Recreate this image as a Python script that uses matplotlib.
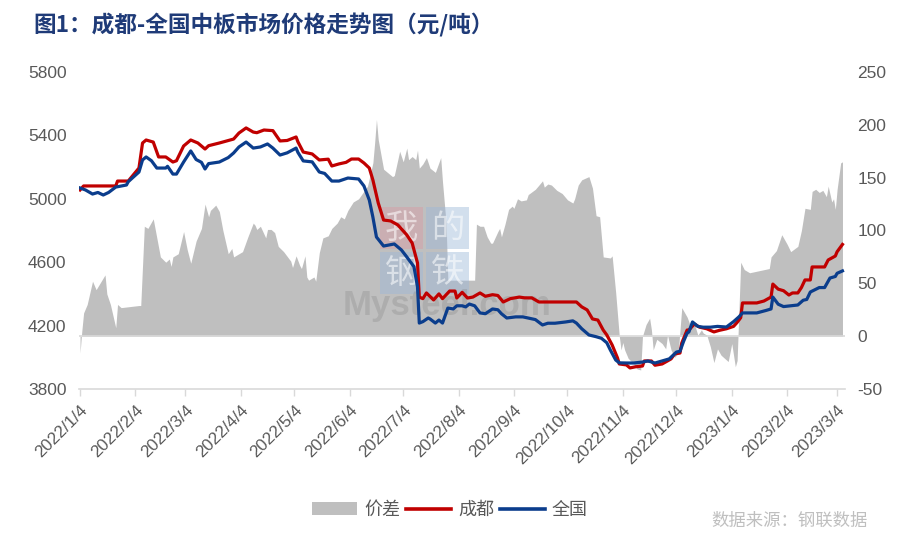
import matplotlib
matplotlib.use('Agg')
import matplotlib.pyplot as plt
import pandas as pd
from matplotlib.patches import Rectangle, Patch
from matplotlib.lines import Line2D

plt.rcParams['font.family'] = ['Liberation Sans', 'Noto Sans CJK SC', 'DejaVu Sans']
CJK = ['Noto Sans CJK SC', 'DejaVu Sans']

# ---------------- data ----------------
cd_dates = ['2022-01-04','2022-01-06','2022-01-24','2022-01-25','2022-01-31','2022-02-06','2022-02-08','2022-02-10',
            '2022-02-14','2022-02-17','2022-02-21','2022-02-25','2022-02-27','2022-03-03','2022-03-07','2022-03-11',
            '2022-03-15','2022-03-17','2022-03-23','2022-03-31','2022-04-03','2022-04-07','2022-04-11','2022-04-13',
            '2022-04-17','2022-04-22','2022-04-26','2022-04-30','2022-05-05','2022-05-06','2022-05-09','2022-05-14',
            '2022-05-18','2022-05-23','2022-05-25','2022-05-29','2022-06-02','2022-06-05','2022-06-09','2022-06-12',
            '2022-06-15','2022-06-17','2022-06-20','2022-06-23','2022-06-27','2022-07-01','2022-07-06','2022-07-09',
            '2022-07-12','2022-07-13','2022-07-15','2022-07-17','2022-07-21','2022-07-24','2022-07-26','2022-07-30',
            '2022-08-02','2022-08-03','2022-08-06','2022-08-09','2022-08-12','2022-08-16','2022-08-19','2022-08-23',
            '2022-08-26','2022-08-29','2022-09-02','2022-09-07','2022-09-10','2022-09-14','2022-09-18','2022-10-09',
            '2022-10-12','2022-10-15','2022-10-18','2022-10-21','2022-10-24','2022-10-26','2022-10-29','2022-11-01',
            '2022-11-02','2022-11-06','2022-11-08','2022-11-11','2022-11-15','2022-11-16','2022-11-20','2022-11-22',
            '2022-11-26','2022-11-29','2022-12-01','2022-12-03','2022-12-06','2022-12-07','2022-12-10','2022-12-11',
            '2022-12-14','2022-12-17','2022-12-21','2022-12-25','2022-12-28','2023-01-01','2023-01-05','2023-01-07',
            '2023-01-09','2023-01-10','2023-01-18','2023-01-22','2023-01-26','2023-01-27','2023-01-30','2023-02-02',
            '2023-02-05','2023-02-07','2023-02-10','2023-02-12','2023-02-14','2023-02-17','2023-02-18','2023-02-25',
            '2023-02-27','2023-03-03','2023-03-04','2023-03-07']
cd_vals = [5056,5081,5081,5112,5112,5194,5352,5371,
           5358,5264,5264,5232,5240,5333,5371,5352,
           5314,5335,5352,5377,5415,5447,5421,5417,
           5434,5430,5365,5368,5390,5360,5295,5283,
           5245,5250,5207,5220,5230,5251,5251,5226,
           5194,5119,4974,4866,4860,4835,4772,4721,
           4595,4380,4370,4406,4362,4400,4370,4418,
           4418,4374,4410,4374,4380,4406,4385,4395,
           4390,4349,4370,4380,4375,4375,4349,4349,
           4318,4299,4242,4235,4172,4141,4078,3996,
           3958,3952,3933,3940,3945,3977,3977,3950,
           3958,3977,3990,4021,4027,4090,4172,4172,
           4210,4190,4180,4160,4170,4180,4195,4220,
           4250,4343,4343,4355,4380,4462,4430,4420,
           4393,4406,4406,4440,4488,4488,4570,4570,
           4614,4639,4666,4712]

qg_dates = ['2022-01-04','2022-01-07','2022-01-11','2022-01-14','2022-01-17','2022-01-20','2022-01-24','2022-01-30',
            '2022-01-31','2022-02-06','2022-02-08','2022-02-10','2022-02-13','2022-02-16','2022-02-21','2022-02-22',
            '2022-02-25','2022-02-27','2022-03-03','2022-03-07','2022-03-10','2022-03-13','2022-03-15','2022-03-17',
            '2022-03-23','2022-03-28','2022-03-31','2022-04-03','2022-04-07','2022-04-11','2022-04-15','2022-04-19',
            '2022-04-22','2022-04-26','2022-04-30','2022-05-05','2022-05-06','2022-05-09','2022-05-14','2022-05-18',
            '2022-05-21','2022-05-25','2022-05-29','2022-06-03','2022-06-09','2022-06-12','2022-06-15','2022-06-17',
            '2022-06-19','2022-06-23','2022-06-29','2022-07-03','2022-07-06','2022-07-10','2022-07-12','2022-07-13',
            '2022-07-15','2022-07-18','2022-07-19','2022-07-22','2022-07-24','2022-07-26','2022-07-29','2022-08-01',
            '2022-08-03','2022-08-06','2022-08-08','2022-08-10','2022-08-13','2022-08-16','2022-08-19','2022-08-23',
            '2022-08-26','2022-08-28','2022-08-31','2022-09-05','2022-09-09','2022-09-12','2022-09-16','2022-09-20',
            '2022-09-23','2022-09-27','2022-10-03','2022-10-07','2022-10-09','2022-10-12','2022-10-16','2022-10-20',
            '2022-10-23','2022-10-26','2022-10-28','2022-10-31','2022-11-02','2022-11-06','2022-11-10','2022-11-15',
            '2022-11-18','2022-11-22','2022-11-26','2022-11-30','2022-12-04','2022-12-06','2022-12-08','2022-12-10',
            '2022-12-11','2022-12-13','2022-12-16','2022-12-19','2022-12-23','2022-12-27','2023-01-01','2023-01-05',
            '2023-01-08','2023-01-10','2023-01-18','2023-01-23','2023-01-26','2023-01-27','2023-01-30','2023-02-02',
            '2023-02-06','2023-02-10','2023-02-13','2023-02-15','2023-02-17','2023-02-22','2023-02-25','2023-02-28',
            '2023-03-03','2023-03-04','2023-03-07']
qg_vals = [5068,5056,5030,5040,5024,5040,5074,5087,
           5108,5169,5245,5264,5240,5194,5194,5205,
           5156,5156,5232,5302,5248,5230,5188,5222,
           5232,5260,5289,5327,5358,5320,5327,5346,
           5320,5276,5290,5320,5293,5239,5233,5169,
           5160,5112,5112,5131,5125,5081,4992,4885,
           4759,4702,4715,4677,4633,4572,4444,4216,
           4225,4248,4242,4216,4235,4216,4311,4305,
           4325,4325,4318,4336,4325,4280,4275,4305,
           4300,4275,4248,4255,4255,4248,4238,4204,
           4215,4215,4223,4230,4216,4180,4141,4130,
           4120,4092,4046,3983,3965,3964,3964,3970,
           3977,3964,3977,3990,4033,4038,4100,4153,
           4160,4223,4195,4190,4190,4195,4191,4225,
           4255,4280,4280,4295,4305,4380,4335,4320,
           4325,4330,4360,4365,4412,4440,4440,4500,
           4510,4530,4545]

diff_dates = ['2022-01-04','2022-01-05','2022-01-06','2022-01-08','2022-01-11','2022-01-13','2022-01-18','2022-01-19',
              '2022-01-21','2022-01-24','2022-01-25','2022-01-27','2022-02-06','2022-02-07','2022-02-09','2022-02-11',
              '2022-02-14','2022-02-15','2022-02-18','2022-02-21','2022-02-23','2022-02-24','2022-02-25','2022-02-28',
              '2022-03-01','2022-03-03','2022-03-05','2022-03-07','2022-03-10','2022-03-13','2022-03-15','2022-03-17',
              '2022-03-18','2022-03-21','2022-03-23','2022-03-25','2022-03-28','2022-03-30','2022-03-31','2022-04-05',
              '2022-04-08','2022-04-11','2022-04-12','2022-04-13','2022-04-15','2022-04-18','2022-04-19','2022-04-21',
              '2022-04-23','2022-04-25','2022-04-28','2022-05-02','2022-05-03','2022-05-05','2022-05-07','2022-05-08',
              '2022-05-10','2022-05-11','2022-05-12','2022-05-15','2022-05-16','2022-05-18','2022-05-20','2022-05-23',
              '2022-05-25','2022-05-28','2022-05-30','2022-06-01','2022-06-03','2022-06-06','2022-06-09','2022-06-14',
              '2022-06-17','2022-06-18','2022-06-19','2022-06-20','2022-06-23','2022-06-28','2022-06-29','2022-07-02',
              '2022-07-04','2022-07-06','2022-07-07','2022-07-09','2022-07-11','2022-07-12','2022-07-13','2022-07-15',
              '2022-07-17','2022-07-19','2022-07-22','2022-07-25','2022-07-26','2022-07-28','2022-07-29','2022-08-13',
              '2022-08-14','2022-08-16','2022-08-18','2022-08-20','2022-08-22','2022-08-23','2022-08-26','2022-08-27',
              '2022-08-28','2022-08-30','2022-09-01','2022-09-03','2022-09-04','2022-09-06','2022-09-08','2022-09-11',
              '2022-09-12','2022-09-16','2022-09-17','2022-09-20','2022-09-21','2022-09-23','2022-09-25','2022-09-28',
              '2022-10-01','2022-10-04','2022-10-07','2022-10-08','2022-10-10','2022-10-12','2022-10-16','2022-10-18',
              '2022-10-20','2022-10-22','2022-10-24','2022-10-28','2022-10-29','2022-10-31','2022-11-02','2022-11-03',
              '2022-11-04','2022-11-05','2022-11-07','2022-11-10','2022-11-12','2022-11-14','2022-11-15','2022-11-17',
              '2022-11-19','2022-11-20','2022-11-21','2022-11-23','2022-11-26','2022-11-28','2022-11-29','2022-12-01',
              '2022-12-03','2022-12-05','2022-12-07','2022-12-09','2022-12-10','2022-12-12','2022-12-14','2022-12-16',
              '2022-12-18','2022-12-19','2022-12-21','2022-12-23','2022-12-25','2022-12-27','2022-12-29','2023-01-02',
              '2023-01-04','2023-01-06','2023-01-07','2023-01-09','2023-01-11','2023-01-14','2023-01-25','2023-01-26',
              '2023-01-29','2023-02-01','2023-02-04','2023-02-06','2023-02-10','2023-02-12','2023-02-14','2023-02-17',
              '2023-02-18','2023-02-20','2023-02-22','2023-02-24','2023-02-26','2023-02-27','2023-03-01','2023-03-02',
              '2023-03-03','2023-03-04','2023-03-06','2023-03-07']
diff_vals = [-16,5,22,30,52,44,58,40,
             30,8,30,27,29,29,104,102,
             111,102,75,70,73,66,75,78,
             85,99,82,69,90,102,125,113,
             119,124,118,100,78,83,75,80,
             94,107,105,101,104,93,101,101,
             98,85,80,71,65,76,67,64,
             76,56,53,56,52,79,93,95,
             102,107,113,111,119,127,130,142,
             164,183,205,186,158,151,152,175,
             165,178,167,170,167,176,159,163,
             169,159,155,169,146,107,53,53,
             106,104,104,94,88,88,99,102,
             94,106,120,123,121,130,128,129,
             134,139,141,147,141,144,143,138,
             135,129,126,130,143,148,151,140,
             114,113,75,74,76,41,0,-13,
             -6,-13,-21,-26,-31,-32,0,11,
             17,6,-13,-3,-7,-12,1,-13,
             -20,-16,27,21,18,9,12,1,
             6,3,1,-10,-25,-12,-18,-24,
             -7,-29,-23,70,63,60,64,75,
             81,96,87,80,85,100,121,120,
             137,139,136,138,132,142,127,130,
             120,139,164,165]

left_ticks = [3800, 4200, 4600, 5000, 5400, 5800]
right_ticks = [-50, 0, 50, 100, 150, 200, 250]
tick_dates = ['2022-01-04','2022-02-04','2022-03-04','2022-04-04','2022-05-04','2022-06-04','2022-07-04',
              '2022-08-04','2022-09-04','2022-10-04','2022-11-04','2022-12-04','2023-01-04','2023-02-04','2023-03-04']
tick_labels = ['2022/1/4','2022/2/4','2022/3/4','2022/4/4','2022/5/4','2022/6/4','2022/7/4','2022/8/4',
               '2022/9/4','2022/10/4','2022/11/4','2022/12/4','2023/1/4','2023/2/4','2023/3/4']
series_names = ['价差', '成都', '全国']

# ---------------- plot ----------------
C_GRAY = '#BFBFBF'
C_RED = '#C00000'
C_BLUE = '#0B3D8C'
C_TXT = '#595959'

fig = plt.figure(figsize=(9.01, 5.41), dpi=100)
fig.patch.set_facecolor('white')
ax = fig.add_axes([79/901, 1-389/541, (845-79)/901, (389-72)/541])
ax2 = ax.twinx()
ax.set_zorder(ax2.get_zorder() + 1)
ax.patch.set_visible(False)

dd = pd.to_datetime(diff_dates)
ax2.fill_between(dd, diff_vals, 0, color=C_GRAY, lw=0, zorder=1)
ax2.axhline(0, color='#D9D9D9', lw=1.2, zorder=2)

ax.plot(pd.to_datetime(cd_dates), cd_vals, color=C_RED, lw=2.3, solid_joinstyle='round', zorder=3)
ax.plot(pd.to_datetime(qg_dates), qg_vals, color=C_BLUE, lw=2.3, solid_joinstyle='round', zorder=4)

x0 = pd.Timestamp('2022-01-04') - pd.Timedelta(hours=14)
x1 = pd.Timestamp('2023-03-08') + pd.Timedelta(hours=10)
ax.set_xlim(x0, x1)
ax.set_ylim(3800, 5800)
ax2.set_ylim(-50, 250)
ax.set_yticks(left_ticks)
ax.set_yticklabels([str(v) for v in left_ticks])
ax2.set_yticks(right_ticks)
ax2.set_yticklabels([str(v) for v in right_ticks])

ax.set_xticks(pd.to_datetime(tick_dates))
ax.set_xticklabels(tick_labels, rotation=45, ha='right', va='top', rotation_mode='anchor')

for a in (ax, ax2):
    for s in ('top', 'left', 'right'):
        a.spines[s].set_visible(False)
    a.spines['bottom'].set_color('#D9D9D9')
    a.spines['bottom'].set_linewidth(1.2)
ax2.spines['bottom'].set_visible(False)

ax.tick_params(axis='x', length=5, width=1, color='#D9D9D9', direction='out', pad=5,
               labelsize=12.3, labelcolor=C_TXT)
ax.tick_params(axis='y', length=0, pad=9, labelsize=12.5, labelcolor=C_TXT)
ax2.tick_params(axis='y', length=0, pad=9, labelsize=12.5, labelcolor=C_TXT)

# watermark
wm = dict(transform=fig.transFigure, zorder=2.5)
boxes = [(380, 207, '#D99BA3', '我'), (426, 207, '#9DB8D9', '的'),
         (380, 252, '#9DB8D9', '钢'), (426, 252, '#9DB8D9', '铁')]
for bx, by, bc, ch in boxes:
    ax2.add_patch(Rectangle((bx/901, 1-(by+42)/541), 43/901, 42/541, facecolor=bc, alpha=0.45,
                            lw=0, **wm))
    ax2.text((bx+21.5)/901, 1-(by+21)/541, ch, ha='center', va='center', fontsize=24,
             color='white', alpha=0.55, family=CJK, **wm)
ax2.text(447/901, 1-305/541, 'Mysteel.com', ha='center', va='center', fontsize=25, fontweight='bold',
         color='#8C8C8C', alpha=0.35, **wm)

# title
fig.text(33/901, 1-25/541, '图1：成都-全国中板市场价格走势图（元/吨）', ha='left', va='center',
         fontsize=16.3, fontweight='bold', color='#1F3B78', family=CJK)

# legend
handles = [Patch(facecolor=C_GRAY, edgecolor='none'),
           Line2D([], [], color=C_RED, lw=2.6),
           Line2D([], [], color=C_BLUE, lw=2.6)]
leg = fig.legend(handles, series_names, loc='center', bbox_to_anchor=(450/901, 1-510/541), ncol=3,
                 frameon=False, handlelength=2.5, handleheight=0.7, handletextpad=0.4, columnspacing=0.3,
                 prop={'family': CJK, 'size': 13})
for t in leg.get_texts():
    t.set_color(C_TXT)

fig.text(868/901, 1-521/541, '数据来源：钢联数据', ha='right', va='center', fontsize=12.5,
         color='#BFBFBF', family=CJK)

fig.savefig('out.png', dpi=100, facecolor='white')
